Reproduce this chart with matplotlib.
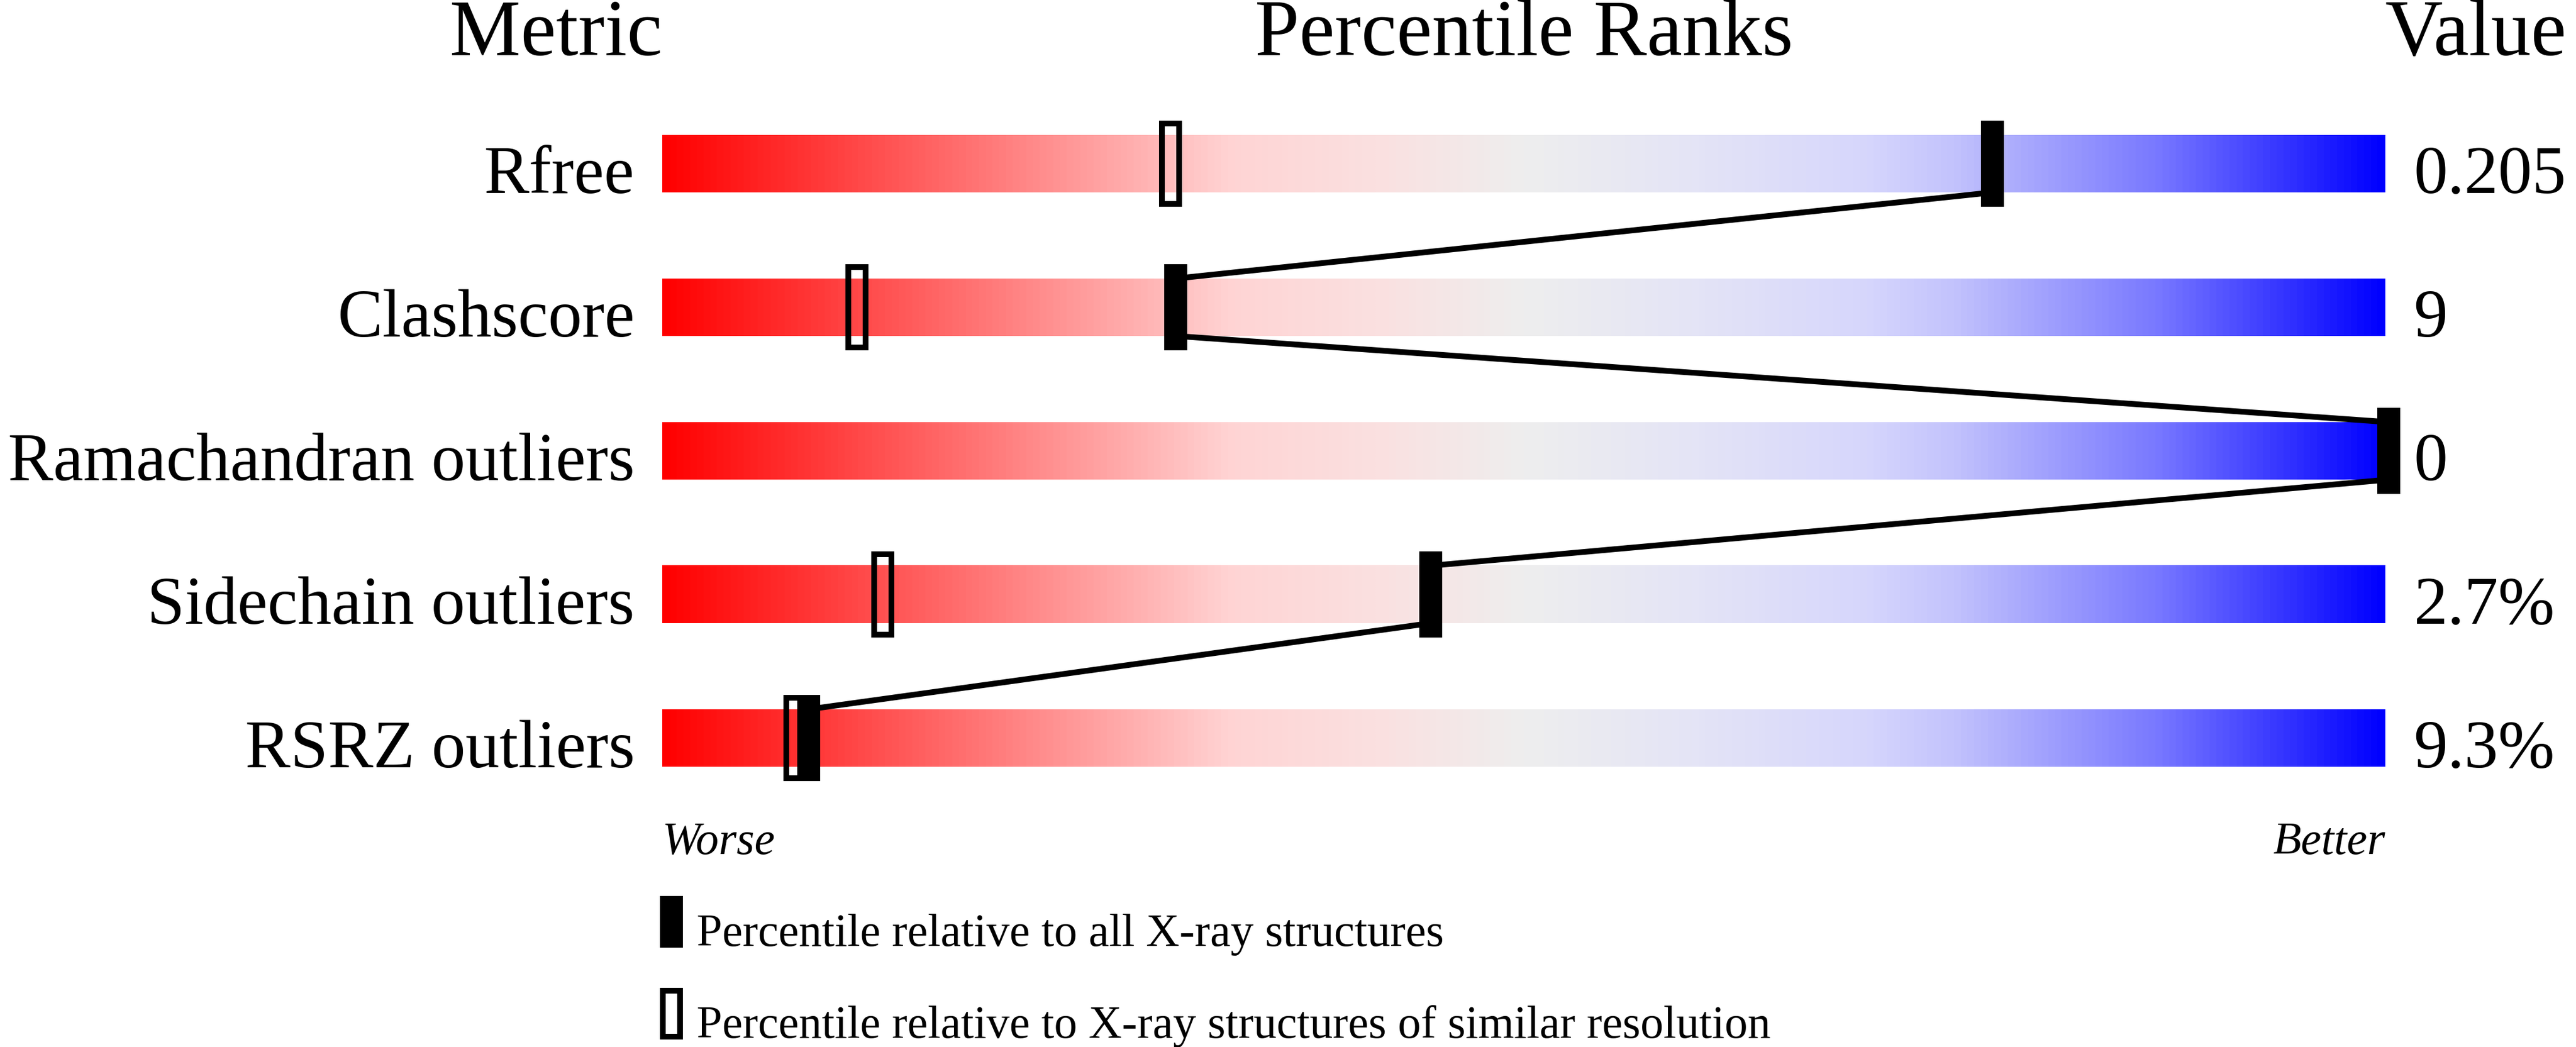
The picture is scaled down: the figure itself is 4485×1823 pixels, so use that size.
import numpy as np
import matplotlib.pyplot as plt
from matplotlib import font_manager
from matplotlib.colors import LinearSegmentedColormap
from matplotlib.patches import Rectangle

# pick a Times-like serif that is actually installed
serif = 'DejaVu Serif'
for name in ['Liberation Serif', 'Times New Roman', 'Nimbus Roman', 'TeX Gyre Termes', 'Noto Serif']:
    try:
        font_manager.findfont(font_manager.FontProperties(family=name), fallback_to_default=False)
        serif = name
        break
    except ValueError:
        pass
plt.rcParams['font.family'] = [serif, 'DejaVu Serif']

# data
metrics = ["Rfree", "Clashscore", "Ramachandran outliers", "Sidechain outliers", "RSRZ outliers"]
values = ["0.205", "9", "0", "2.7%", "9.3%"]
pct_all = [77.2, 29.8, 100.2, 44.6, 8.5]      # filled markers
pct_similar = [29.5, 11.3, 100.2, 12.8, 7.7]  # open markers

W, H, DPI = 4485, 1824, 100
fig = plt.figure(figsize=(W / DPI, H / DPI), dpi=DPI)
ax = fig.add_axes([0, 0, 1, 1])
ax.axis('off')

# red -> grey -> blue slider colours
stops = [
    (0.00, (255, 0, 0)),
    (0.33, (255, 212, 212)),
    (0.42, (250, 225, 225)),
    (0.50, (238, 238, 238)),
    (0.60, (228, 228, 246)),
    (0.70, (214, 214, 252)),
    (0.75, (195, 195, 252)),
    (0.87, (120, 120, 255)),
    (1.00, (0, 0, 255)),
]
cmap = LinearSegmentedColormap.from_list(
    "slider", [(p, tuple(c / 255 for c in rgb)) for p, rgb in stops])
grad = np.linspace(0, 1, 800).reshape(1, -1)

bar_h = 0.4
for i in range(len(metrics)):
    ax.imshow(grad, cmap=cmap, extent=[0, 100, i + bar_h / 2, i - bar_h / 2],
              aspect='auto', interpolation='bilinear', zorder=1)

# lines joining the filled markers
for i in range(len(metrics) - 1):
    ax.plot([pct_all[i], pct_all[i + 1]], [i + bar_h / 2, i + 1 - bar_h / 2],
            color='black', lw=7.2, solid_capstyle='butt', zorder=2)

lw_px = 10 * 72 / DPI
for i in range(len(metrics)):
    x = pct_similar[i]
    ax.add_patch(Rectangle((x - 0.5, i - 0.28), 1.0, 0.56, fill=False,
                           edgecolor='black', lw=lw_px, zorder=3))
    x = pct_all[i]
    ax.add_patch(Rectangle((x - 0.667, i - 0.3), 1.333, 0.6,
                           facecolor='black', edgecolor='none', zorder=4))
    ax.text(-1.6, i + bar_h / 2, metrics[i], ha='right', va='baseline', fontsize=85)
    ax.text(101.65, i + bar_h / 2, values[i], ha='left', va='baseline', fontsize=85)

# headers
ax.text(0, -0.76, "Metric", ha='right', va='baseline', fontsize=100)
ax.text(50, -0.76, "Percentile Ranks", ha='center', va='baseline', fontsize=100)
ax.text(100, -0.76, "Value", ha='left', va='baseline', fontsize=100)

ax.text(0, 4.804, "Worse", ha='left', va='baseline', fontsize=57.6, style='italic')
ax.text(100, 4.804, "Better", ha='right', va='baseline', fontsize=57.6, style='italic')

# legend
ax.add_patch(Rectangle((0.52 - 0.667, 5.28 - 0.18), 1.333, 0.36,
                       facecolor='black', edgecolor='none', zorder=4))
ax.add_patch(Rectangle((0.52 - 0.5, 5.92 - 0.16), 1.0, 0.32, fill=False,
                       edgecolor='black', lw=lw_px, zorder=3))
ax.text(2.0, 5.443, "Percentile relative to all X-ray structures",
        ha='left', va='baseline', fontsize=57.7)
ax.text(2.0, 6.083, "Percentile relative to X-ray structures of similar resolution",
        ha='left', va='baseline', fontsize=57.7)

ax.set_xlim(-1153 / 30, (W - 1153) / 30)
ax.set_ylim((H - 286) / 250, -286 / 250)

fig.savefig("out.png", dpi=DPI)
